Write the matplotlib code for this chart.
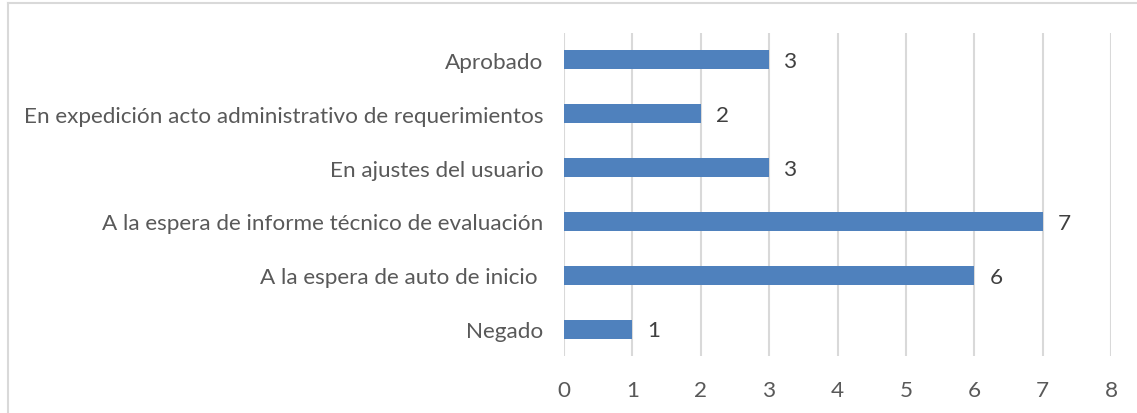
import matplotlib
matplotlib.use("Agg")
from matplotlib import pyplot as plt, ticker
from matplotlib.lines import Line2D

categories = [
    "Negado",
    "A la espera de auto de inicio ",
    "A la espera de informe técnico de evaluación",
    "En ajustes del usuario",
    "En expedición acto administrativo de requerimientos",
    "Aprobado",
]
counts = [1, 6, 7, 3, 2, 3]
x_ticks = [0, 1, 2, 3, 4, 5, 6, 7, 8]

BAR_COLOR = "#4F81BD"
GRID_COLOR = "#D9D9D9"
TEXT_COLOR = "#595959"

plt.rcParams["font.family"] = ["Lato", "DejaVu Sans"]

W, H = 1137, 414
fig = plt.figure(figsize=(W / 100, H / 100), dpi=100)
ax = fig.add_axes([564 / W, (H - 357) / H, (1111 - 564) / W, (357 - 34) / H])

y_pos = list(range(len(categories)))
ax.barh(y_pos, counts, height=0.35, color=BAR_COLOR, zorder=3)

for y, v in zip(y_pos, counts):
    ax.annotate(str(v), (v, y), xytext=(11, -1), textcoords="offset points",
                va="center", ha="left", fontsize=16.2, color="#404040")

ax.set_xlim(0, 8)
ax.set_ylim(-0.5, len(categories) - 0.5)
ax.set_xticks(x_ticks)
ax.set_yticks(y_pos)
ax.set_yticklabels(categories)
ax.xaxis.grid(True, color=GRID_COLOR, linewidth=1.5)
ax.set_axisbelow(True)
for side in ax.spines.values():
    side.set_visible(False)
ax.tick_params(axis="both", length=0, labelsize=16.2, colors=TEXT_COLOR)
ax.tick_params(axis="x", pad=17)
ax.tick_params(axis="y", pad=15)

# chart area border (only top and left edges visible in the crop)
fig.add_artist(Line2D([7.5 / W, 7.5 / W], [0, 1 - 4 / H], color=GRID_COLOR, lw=1.5))
fig.add_artist(Line2D([7.5 / W, 1], [1 - 4 / H, 1 - 4 / H], color=GRID_COLOR, lw=1.5))

fig.savefig("out.png", dpi=100, facecolor="white")
